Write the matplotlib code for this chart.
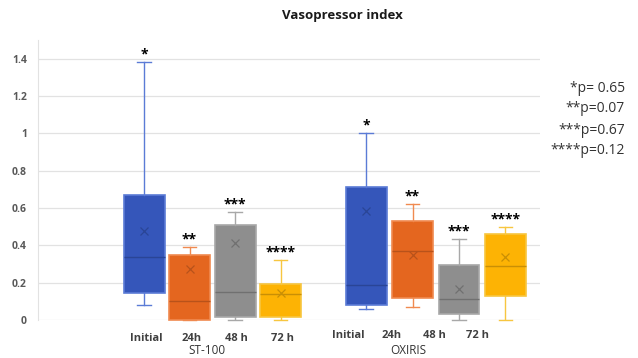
import numpy as np
import matplotlib.pyplot as plt

plt.rcParams['font.family'] = ['Open Sans', 'DejaVu Sans']

groups = ["ST-100", "OXIRIS"]
timepoints = ["Initial", "24h", "48 h", "72 h"]
stars = ["*", "**", "***", "****"]
pvalues = ["*p= 0.65", "**p=0.07", "***p=0.67", "****p=0.12"]

# values
st_whislo = [0.08, 0.0, 0.0, 0.0]
st_q1 = [0.145, 0.0, 0.015, 0.015]
st_med = [0.337, 0.103, 0.151, 0.138]
st_q3 = [0.668, 0.348, 0.508, 0.193]
st_whishi = [1.38, 0.39, 0.58, 0.32]
st_mean = [0.476, 0.274, 0.41, 0.144]

ox_whislo = [0.059, 0.071, 0.0, 0.0]
ox_q1 = [0.08, 0.118, 0.03, 0.128]
ox_med = [0.187, 0.37, 0.112, 0.29]
ox_q3 = [0.713, 0.53, 0.294, 0.46]
ox_whishi = [1.0, 0.62, 0.433, 0.50]
ox_mean = [0.583, 0.348, 0.165, 0.338]

face = ["#3556BA", "#E4661F", "#8E8E8E", "#FDB304"]
edge = ["#5B7BD6", "#F08A50", "#A8A8A8", "#F7C640"]
dark = ["#2A4596", "#B8521A", "#707070", "#C98F05"]

fig = plt.figure(figsize=(6.38, 3.58), dpi=100)
ax = fig.add_axes([38/638, 38/358, 502/638, 280/358])

st_pos = np.arange(4)
ox_pos = 4.88 + np.arange(4) * 1.02


def draw(pos, lo, q1, med, q3, hi, mean):
    for i in range(4):
        st = [dict(whislo=lo[i], q1=q1[i], med=med[i], q3=q3[i], whishi=hi[i], fliers=[])]
        ax.bxp(st, positions=[pos[i]], widths=0.9, patch_artist=True,
               boxprops=dict(facecolor=face[i], edgecolor=edge[i], lw=1.2),
               medianprops=dict(color=dark[i], lw=1),
               whiskerprops=dict(color=edge[i], lw=1.0),
               capprops=dict(color=edge[i], lw=1.0), capwidths=0.3,
               manage_ticks=False)
        for a in ax.lines[-5:] + ax.patches[-1:]:
            a.set_clip_on(False)
        ax.plot(pos[i], mean[i], marker='x', ms=6, mew=0.9, color=dark[i], zorder=5)
        ax.text(pos[i], hi[i] + 0.04, stars[i], ha='center', va='center',
                fontsize=10, fontweight='bold', color='black')


draw(st_pos, st_whislo, st_q1, st_med, st_q3, st_whishi, st_mean)
draw(ox_pos, ox_whislo, ox_q1, ox_med, ox_q3, ox_whishi, ox_mean)

ax.set_xlim(-2.33, 8.70)
ax.set_ylim(0, 1.5)
ax.set_yticks(np.arange(0, 1.41, 0.2))
ax.set_yticklabels(["0", "0.2", "0.4", "0.6", "0.8", "1", "1.2", "1.4"])
ax.tick_params(axis='y', length=0, pad=8, labelsize=7.5, labelcolor='#595959')
for lab in ax.get_yticklabels():
    lab.set_fontweight('bold')
ax.set_xticks([])
ax.grid(axis='y', color='#E2E2E2', lw=0.9)
ax.set_axisbelow(True)
for s in ['top', 'right', 'bottom']:
    ax.spines[s].set_visible(False)
ax.spines['left'].set_color('#E2E2E2')

tr = ax.get_xaxis_transform()
for i, t in enumerate(timepoints):
    ax.text(st_pos[i] + 0.04, -0.066, t, transform=tr, ha='center', va='center',
            fontsize=8, fontweight='bold', color='#404040')
    ax.text(4.48 + i * 0.95, -0.055, t, transform=tr, ha='center', va='center',
            fontsize=8, fontweight='bold', color='#404040')
ax.text(1.38, -0.108, groups[0], transform=tr, ha='center', va='center',
        fontsize=8.5, color='#333333')
ax.text(5.8, -0.108, groups[1], transform=tr, ha='center', va='center',
        fontsize=8.5, color='#333333')

fig.text(0.536, 0.958, "Vasopressor index", ha='center', va='center',
         fontsize=9.5, fontweight='bold', color='#1a1a1a')
for i, p in enumerate(pvalues):
    fig.text(625/638, 1 - (88 + 21 * i)/358, p, ha='right', va='center',
             fontsize=10, color='#333333')

fig.savefig("out.png", dpi=100)
